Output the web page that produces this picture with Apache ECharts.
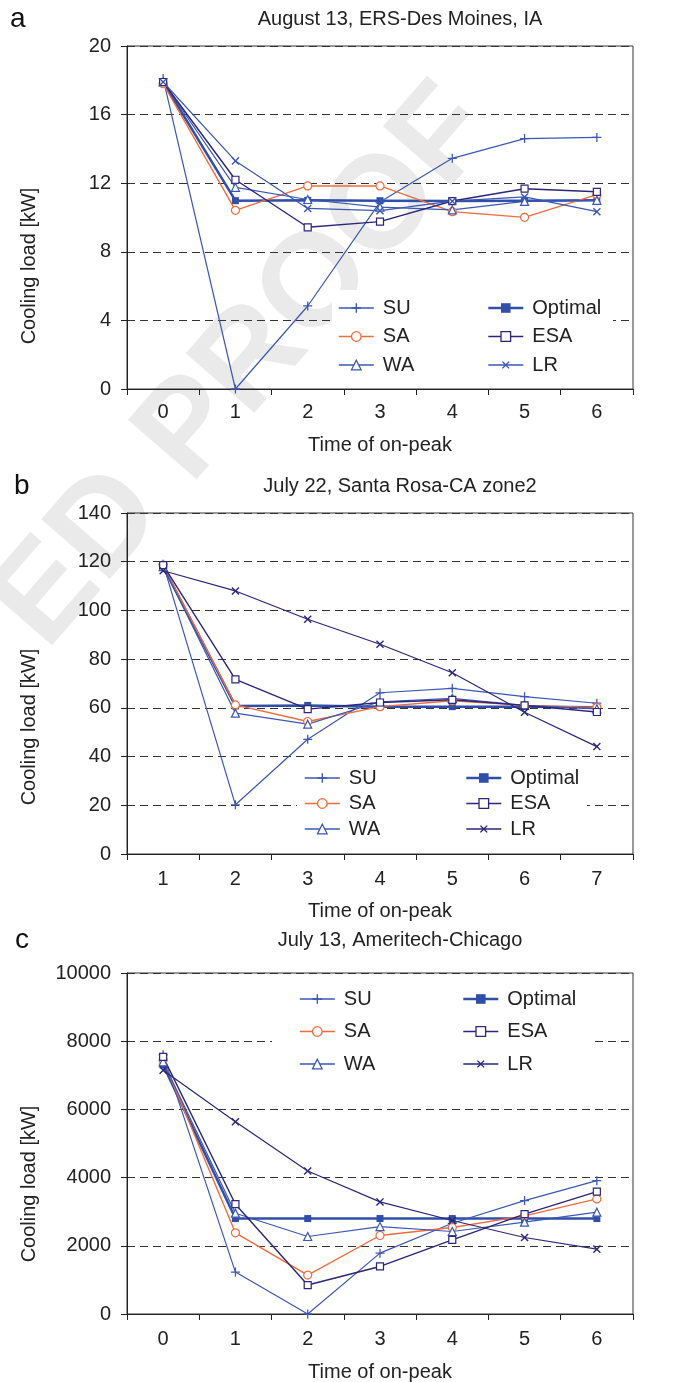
<!DOCTYPE html>
<html>
<head>
<meta charset="utf-8">
<script src="https://cdn.jsdelivr.net/npm/echarts@6/dist/echarts.min.js"></script>
<style>
html,body{margin:0;padding:0;background:#fff;}
#chart{width:680px;height:1382px;}
</style>
</head>
<body>
<div id="chart"></div>
<script>
// ---------- data ----------
const seriesNames = ['SU', 'SA', 'WA', 'Optimal', 'ESA', 'LR'];

const catsA = ['0', '1', '2', '3', '4', '5', '6'];
const aSU  = [18.1, 0, 4.84, 10.9, 13.45, 14.6, 14.67];
const aSA  = [17.8, 10.42, 11.84, 11.84, 10.34, 10.01, 11.33];
const aWA  = [17.9, 11.76, 11.05, 10.6, 10.44, 10.94, 11.0];
const aOpt = [17.9, 10.98, 11.0, 10.98, 10.96, 10.98, 11.0];
const aESA = [17.9, 12.2, 9.43, 9.76, 10.96, 11.68, 11.5];
const aLR  = [17.9, 13.3, 10.53, 10.4, 10.95, 11.2, 10.34];

const catsB = ['1', '2', '3', '4', '5', '6', '7'];
const bSU  = [119, 20.2, 47.1, 66.2, 68.0, 64.6, 61.9];
const bSA  = [118.6, 61.2, 54.4, 60.5, 62.9, 61, 60.2];
const bWA  = [118, 57.8, 53.3, 62.5, 63.9, 61, 59.6];
const bOpt = [118, 60.8, 61, 60.5, 60.5, 60.5, 60.2];
const bESA = [118.6, 71.7, 59.5, 62.2, 63.3, 61, 58.3];
const bLR  = [116.3, 108, 96.4, 86.1, 74.4, 58.2, 44.1];

const catsC = ['0', '1', '2', '3', '4', '5', '6'];
const cSU  = [7600, 1229, 0, 1785, 2660, 3326, 3911];
const cSA  = [7450, 2380, 1141, 2302, 2536, 2878, 3375];
const cWA  = [7395, 2956, 2272, 2565, 2419, 2693, 2985];
const cOpt = [7300, 2799, 2799, 2799, 2799, 2799, 2799];
const cESA = [7541, 3220, 849, 1394, 2175, 2927, 3589];
const cLR  = [7151, 5638, 4194, 3287, 2741, 2243, 1902];

const titles = ['August 13, ERS-Des Moines, IA', 'July 22, Santa Rosa-CA zone2', 'July 13, Ameritech-Chicago'];
const panelLetters = ['a', 'b', 'c'];
const yName = 'Cooling load [kW]';
const xName = 'Time of on-peak';
const watermark = 'ED PROOF';
const yMax = [20, 140, 10000];
const yInterval = [4, 20, 2000];

// ---------- styles ----------
const FONT = "'Liberation Sans', Arial, Helvetica, sans-serif";
const TXT = '#222';
const BLUE = '#3b57b3';
const ORANGE = '#f26b3c';
const OPT = '#2f4fa9';
const NAVY = '#2b2677';
const PLUS = 'path://M4.3,0H5.7V4.3H10V5.7H5.7V10H4.3V5.7H0V4.3H4.3Z';

const grids = [
  {left: 127, width: 506, top: 46, height: 343},
  {left: 127, width: 506, top: 513, height: 341},
  {left: 127, width: 506, top: 973, height: 341}
];
const panelData = [
  {cats: catsA, vals: [aSU, aSA, aWA, aOpt, aESA, aLR], lrColor: BLUE},
  {cats: catsB, vals: [bSU, bSA, bWA, bOpt, bESA, bLR], lrColor: NAVY},
  {cats: catsC, vals: [cSU, cSA, cWA, cOpt, cESA, cLR], lrColor: NAVY}
];

function styleFor(name, lrColor) {
  switch (name) {
    case 'SU': return {color: BLUE, lw: 1.2, llw: 1.6, symbol: PLUS, size: 9, fill: BLUE, rot: 0};
    case 'SA': return {color: ORANGE, lw: 1.4, llw: 1.6, symbol: 'circle', size: 8, fill: '#fff', rot: 0};
    case 'WA': return {color: BLUE, lw: 1.2, llw: 1.6, symbol: 'triangle', size: 8, fill: '#fff', rot: 0};
    case 'Optimal': return {color: OPT, lw: 2.5, llw: 2.6, symbol: 'rect', size: 7, fill: OPT, rot: 0};
    case 'ESA': return {color: NAVY, lw: 1.4, llw: 1.6, symbol: 'rect', size: 7, fill: '#fff', rot: 0};
    case 'LR': return {color: lrColor, lw: 1.2, llw: 1.6, symbol: PLUS, size: 10, fill: lrColor, rot: 45};
  }
}

const xAxes = [], yAxes = [], series = [];
grids.forEach((g, i) => {
  xAxes.push({
    type: 'category', gridIndex: i, data: panelData[i].cats, boundaryGap: true,
    axisLine: {lineStyle: {color: '#222', width: 1}},
    axisTick: {show: true, length: 6, lineStyle: {color: '#222'}},
    axisLabel: {color: TXT, fontSize: 20, fontFamily: FONT, margin: i === 0 ? 13 : 15},
    splitLine: {show: false}
  });
  yAxes.push({
    type: 'value', gridIndex: i, min: 0, max: yMax[i], interval: yInterval[i],
    axisLine: {show: true, lineStyle: {color: '#222', width: 1}},
    axisTick: {show: true, length: 6, lineStyle: {color: '#222'}},
    axisLabel: {color: TXT, fontSize: 20, fontFamily: FONT, margin: 16, formatter: v => String(v)},
    splitLine: {show: true, lineStyle: {color: '#333', width: 1, type: [8, 5]}}
  });
  seriesNames.forEach((n, k) => {
    const s = styleFor(n, panelData[i].lrColor);
    const isFilled = (s.fill !== '#fff');
    series.push({
      name: panelLetters[i] + ':' + n,
      type: 'line', xAxisIndex: i, yAxisIndex: i,
      data: panelData[i].vals[k],
      symbol: s.symbol, symbolSize: s.size, symbolRotate: s.rot,
      showAllSymbol: true,
      lineStyle: {color: s.color, width: s.lw},
      itemStyle: isFilled ? {color: s.fill, borderWidth: 0}
                          : {color: '#fff', borderColor: s.color, borderWidth: 1.2},
      z: n === 'Optimal' ? 3 : 4,
      animation: false
    });
  });
});

const legendSpec = [
  {top: 298, gap: 8.5, col1: 338, col2: 487},
  {top: 768, gap: 5.5, col1: 304, col2: 465},
  {top: 989, gap: 12.5, col1: 299, col2: 462}
];
const legends = [];
legendSpec.forEach((L, i) => {
  const mk = (left, names) => ({
    show: true, orient: 'vertical', left: left, top: L.top, padding: 0,
    itemWidth: 35, itemHeight: 12, itemGap: L.gap,
    selectedMode: false,
    data: names.map(n => {
      const s = styleFor(n, panelData[i].lrColor);
      const isFilled = (s.fill !== '#fff');
      return {
        name: panelLetters[i] + ':' + n,
        lineStyle: {color: s.color, width: s.llw},
        itemStyle: isFilled ? {color: s.fill, borderWidth: 0}
                            : {color: '#fff', borderColor: s.color, borderWidth: 1.3}
      };
    }),
    formatter: nm => nm.slice(2),
    textStyle: {color: TXT, fontSize: 20, fontFamily: FONT, lineHeight: 20, padding: [0, 0, 0, 4]}
  });
  legends.push(mk(L.col1, ['SU', 'SA', 'WA']));
  legends.push(mk(L.col2, ['Optimal', 'ESA', 'LR']));
});

const graphics = [
  // watermark
  {type: 'text', x: 245, y: 368, rotation: 49 * Math.PI / 180, z: -10, silent: true,
   style: {text: watermark, font: 'bold 132px ' + FONT, fill: '#eaeaea', textAlign: 'center', textVerticalAlign: 'middle'}},
  // legend white boxes
  {type: 'rect', shape: {x: 332, y: 290, width: 281, height: 90}, style: {fill: '#fff'}, z: 1, silent: true},
  {type: 'rect', shape: {x: 297, y: 757, width: 290, height: 88}, style: {fill: '#fff'}, z: 1, silent: true},
  {type: 'rect', shape: {x: 272, y: 980, width: 323, height: 95}, style: {fill: '#fff'}, z: 1, silent: true}
];
const titleY = [19, 486, 940];
const letterPos = [[10, 19], [14, 486], [15, 940]];
const xNameY = [445, 911, 1372];
const yNameY = [266, 727, 1184];
for (let i = 0; i < 3; i++) {
  graphics.push({type: 'text', x: 400, y: titleY[i], z: 10,
    style: {text: titles[i], font: '20px ' + FONT, fill: TXT, textAlign: 'center', textVerticalAlign: 'middle'}});
  graphics.push({type: 'text', x: letterPos[i][0], y: letterPos[i][1], z: 10,
    style: {text: panelLetters[i], font: '28px ' + FONT, fill: '#111', textAlign: 'left', textVerticalAlign: 'middle'}});
  graphics.push({type: 'text', x: 380, y: xNameY[i], z: 10,
    style: {text: xName, font: '20px ' + FONT, fill: TXT, textAlign: 'center', textVerticalAlign: 'middle'}});
  graphics.push({type: 'text', x: 29, y: yNameY[i], rotation: Math.PI / 2, z: 10,
    style: {text: yName, font: '20px ' + FONT, fill: TXT, textAlign: 'center', textVerticalAlign: 'middle'}});
}

const chart = echarts.init(document.getElementById('chart'), null, {renderer: 'canvas'});
chart.setOption({
  backgroundColor: '#fff',
  animation: false,
  grid: grids.map(g => Object.assign({show: true, borderColor: '#333', borderWidth: 1, backgroundColor: 'transparent'}, g)),
  xAxis: xAxes,
  yAxis: yAxes,
  legend: legends,
  graphic: graphics,
  series: series
});
</script>
</body>
</html>
